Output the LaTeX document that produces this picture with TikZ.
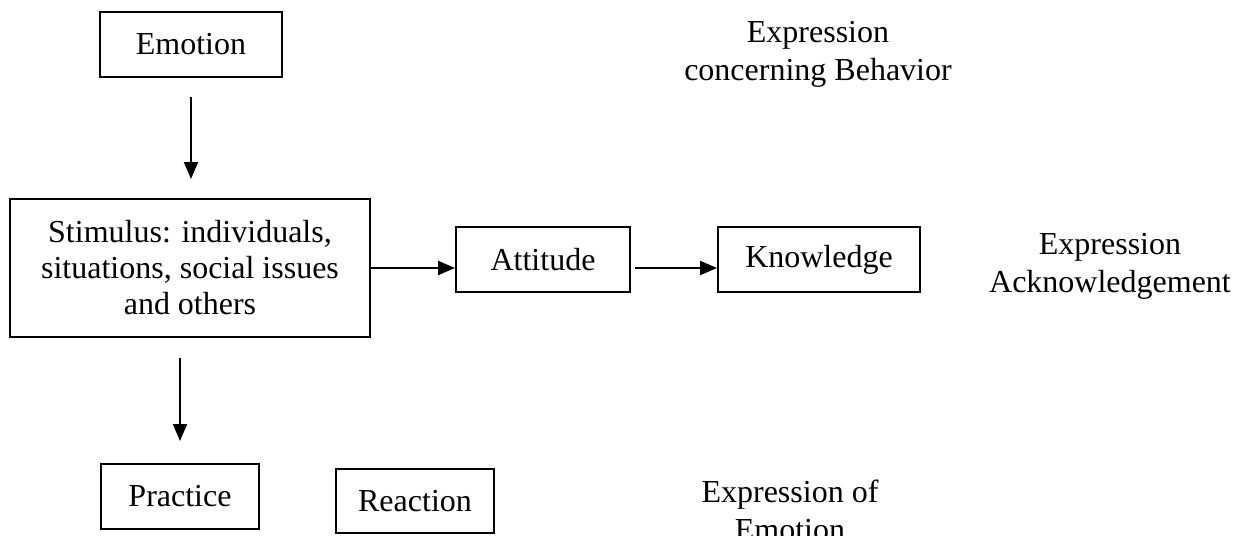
\documentclass[tikz,border=0pt]{standalone}
\usepackage{fontspec}
\setmainfont{Liberation Serif}
\usetikzlibrary{arrows.meta}
\begin{document}
\begin{tikzpicture}[x=1pt,y=-1pt,
  box/.style={draw=black, line width=1.9pt, inner sep=0pt, align=center,
    font=\fontsize{32}{36}\selectfont},
  lbl/.style={inner sep=0pt, align=center, font=\fontsize{32}{38}\selectfont},
  arr/.style={line width=1.9pt, -{Triangle[length=17pt,width=14pt]}}]
\useasboundingbox[fill=white] (0,0) rectangle (1238,535);
\node[box, minimum width=182pt, minimum height=65pt] (emo) at (191,44.5) {Emotion};
\node[box, minimum width=360pt, minimum height=138pt] (stim) at (190,268)
  {Stimulus: individuals,\\situations, social issues\\and others};
\node[box, minimum width=174pt, minimum height=65pt] (att) at (543,259.5) {Attitude};
\node[box, minimum width=202pt, minimum height=65pt] (know) at (819,259.5) {Knowledge};
\node[box, minimum width=158pt, minimum height=65pt] (prac) at (180,496.5) {Practice};
\node[box, minimum width=158pt, minimum height=64pt] (reac) at (415,501) {Reaction};
\node[lbl] (lb1) at (818,54) {Expression\\concerning Behavior};
\node[lbl] (lb2) at (1110,266) {Expression\\Acknowledgement};
\node[lbl] (lb3) at (790,510) {Expression of\\Emotion};
\draw[arr, shorten <=19pt, shorten >=19pt] (emo.south) -- (emo.south |- stim.north);
\draw[arr, shorten <=20pt, shorten >=22pt] (prac.north |- stim.south) -- (prac.north);
\draw[arr] (stim.east) -- (stim.east -| att.west);
\draw[arr, shorten <=4pt] (att.east |- stim.east) -- (know.west |- stim.east);
\end{tikzpicture}
\end{document}
